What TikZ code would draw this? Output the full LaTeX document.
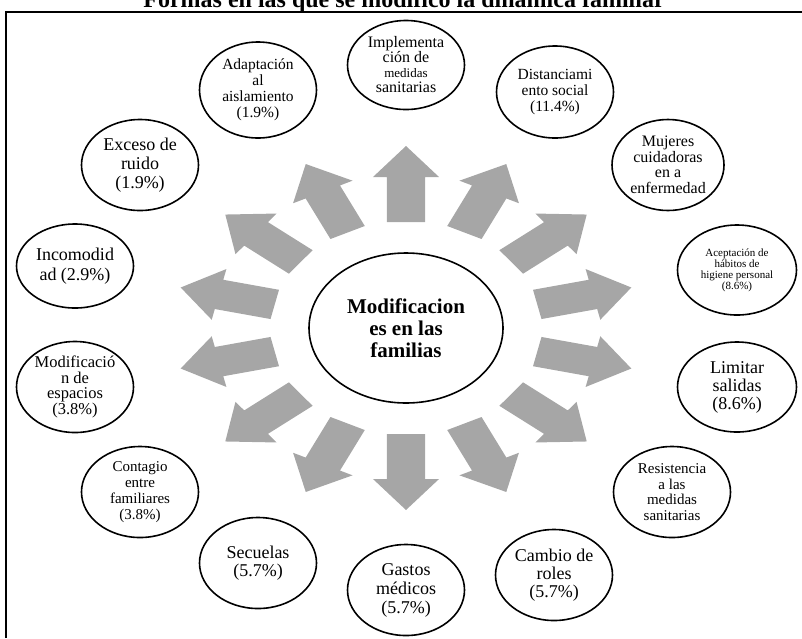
\documentclass[tikz,border=0pt]{standalone}
\usepackage{fontspec}
\setmainfont{Liberation Serif}
\usetikzlibrary{shapes.geometric}
\definecolor{arrowgray}{RGB}{166,166,166}

\begin{document}
\begin{tikzpicture}[x=1pt,y=1pt,
		burbuja/.style={draw,ellipse,line width=1.6pt,minimum width=117pt,minimum height=91pt,inner sep=0pt,align=center},
		flecha/.style={fill=arrowgray}]
			\useasboundingbox (0,0) rectangle (802,-638);
			\coordinate (c) at (406,-328);
			\coordinate (p_1) at (406,-65);
			\coordinate (p_2) at (555,-92);
			\coordinate (p_3) at (668,-165);
			\coordinate (p_4) at (737,-270);
			\coordinate (p_5) at (737,-387);
			\coordinate (p_6) at (672,-492);
			\coordinate (p_7) at (554,-575);
			\coordinate (p_8) at (406,-590);
			\coordinate (p_9) at (258,-563);
			\coordinate (p_10) at (140,-492);
			\coordinate (p_11) at (75,-387);
			\coordinate (p_12) at (75,-266);
			\coordinate (p_13) at (140,-165);
			\coordinate (p_14) at (258,-90);
			\coordinate (f_1) at (6,-638);
			\coordinate (f_2) at (6,-12);
			\coordinate (f_3) at (802,-12);
			\node[font=\fontsize{24}{24}\selectfont\bfseries,anchor=base] (titulo) at (404,-7) {Formas en las que se modificó la dinámica familiar};
			\draw[line width=1.6pt] (f_1) -- (f_2) -- (f_3);
			\begin{scope}[shift={(c)},xscale=1.27]
			\fill[flecha,rotate=90] (106,-15) -- (151,-15) -- (151,-26) -- (182,0) -- (151,26) -- (151,15) -- (106,15) -- cycle;
			\fill[flecha,rotate=115.71] (106,-15) -- (151,-15) -- (151,-26) -- (182,0) -- (151,26) -- (151,15) -- (106,15) -- cycle;
			\fill[flecha,rotate=141.43] (106,-15) -- (151,-15) -- (151,-26) -- (182,0) -- (151,26) -- (151,15) -- (106,15) -- cycle;
			\fill[flecha,rotate=167.14] (106,-15) -- (151,-15) -- (151,-26) -- (182,0) -- (151,26) -- (151,15) -- (106,15) -- cycle;
			\fill[flecha,rotate=192.86] (106,-15) -- (151,-15) -- (151,-26) -- (182,0) -- (151,26) -- (151,15) -- (106,15) -- cycle;
			\fill[flecha,rotate=218.57] (106,-15) -- (151,-15) -- (151,-26) -- (182,0) -- (151,26) -- (151,15) -- (106,15) -- cycle;
			\fill[flecha,rotate=244.29] (106,-15) -- (151,-15) -- (151,-26) -- (182,0) -- (151,26) -- (151,15) -- (106,15) -- cycle;
			\fill[flecha,rotate=270] (106,-15) -- (151,-15) -- (151,-26) -- (182,0) -- (151,26) -- (151,15) -- (106,15) -- cycle;
			\fill[flecha,rotate=295.71] (106,-15) -- (151,-15) -- (151,-26) -- (182,0) -- (151,26) -- (151,15) -- (106,15) -- cycle;
			\fill[flecha,rotate=321.43] (106,-15) -- (151,-15) -- (151,-26) -- (182,0) -- (151,26) -- (151,15) -- (106,15) -- cycle;
			\fill[flecha,rotate=347.14] (106,-15) -- (151,-15) -- (151,-26) -- (182,0) -- (151,26) -- (151,15) -- (106,15) -- cycle;
			\fill[flecha,rotate=12.86] (106,-15) -- (151,-15) -- (151,-26) -- (182,0) -- (151,26) -- (151,15) -- (106,15) -- cycle;
			\fill[flecha,rotate=38.57] (106,-15) -- (151,-15) -- (151,-26) -- (182,0) -- (151,26) -- (151,15) -- (106,15) -- cycle;
			\fill[flecha,rotate=64.29] (106,-15) -- (151,-15) -- (151,-26) -- (182,0) -- (151,26) -- (151,15) -- (106,15) -- cycle;
			\end{scope}
			\node[burbuja,minimum width=194pt,minimum height=150pt,font=\fontsize{21}{22}\selectfont\bfseries] (centro) at (c) {Modificacion\\es en las\\familias};
			\node[burbuja,minimum height=89pt,font=\fontsize{16}{15}\selectfont] (medidas) at (p_1) {Implementa\\ción de\\\fontsize{13}{14}\selectfont medidas\\sanitarias};
			\node[burbuja,minimum height=92pt,font=\fontsize{15.5}{16}\selectfont] (distancia) at (p_2) {Distanciami\\ento social\\(11.4\%)};
			\node[burbuja,minimum width=112pt,font=\fontsize{16}{15.5}\selectfont] (mujeres) at (p_3) {Mujeres\\cuidadoras\\en a\\enfermedad};
			\node[burbuja,minimum width=119pt,minimum height=90pt,font=\fontsize{11}{11}\selectfont] (higiene) at (p_4) {Aceptación de\\hábitos de\\higiene personal\\(8.6\%)};
			\node[burbuja,minimum width=119pt,minimum height=90pt,font=\fontsize{18}{18}\selectfont] (salidas) at (p_5) {Limitar\\salidas\\(8.6\%)};
			\node[burbuja,font=\fontsize{15}{15.5}\selectfont] (resistencia) at (p_6) {Resistencia\\a las\\medidas\\sanitarias};
			\node[burbuja,font=\fontsize{18}{18}\selectfont] (roles) at (p_7) {Cambio de\\roles\\(5.7\%)};
			\node[burbuja,font=\fontsize{18}{19}\selectfont] (gastos) at (p_8) {Gastos\\médicos\\(5.7\%)};
			\node[burbuja,font=\fontsize{18}{18}\selectfont] (secuelas) at (p_9) {Secuelas\\(5.7\%)};
			\node[burbuja,font=\fontsize{15}{16}\selectfont] (contagio) at (p_10) {Contagio\\entre\\familiares\\(3.8\%)};
			\node[burbuja,font=\fontsize{16.5}{15.5}\selectfont] (espacios) at (p_11) {Modificació\\n de\\espacios\\(3.8\%)};
			\node[burbuja,minimum height=84pt,font=\fontsize{18}{20}\selectfont] (incomodidad) at (p_12) {Incomodid\\ad (2.9\%)};
			\node[burbuja,font=\fontsize{18}{19}\selectfont] (ruido) at (p_13) {Exceso de\\ruido\\(1.9\%)};
			\node[burbuja,minimum height=96pt,font=\fontsize{15.5}{16}\selectfont] (aislamiento) at (p_14) {Adaptación\\al\\aislamiento\\(1.9\%)};
		\end{tikzpicture}
\end{document}
